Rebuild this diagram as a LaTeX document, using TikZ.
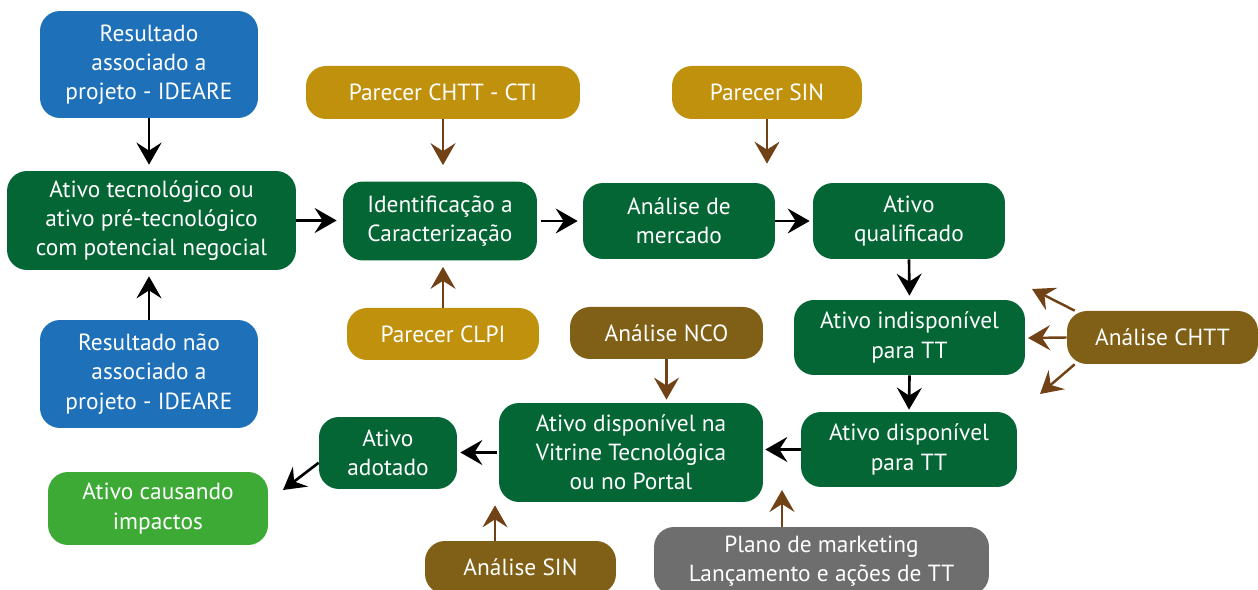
\documentclass[tikz,border=0pt]{standalone}
\usepackage{fontspec}
\setmainfont{PT Sans}
\usetikzlibrary{positioning, arrows.meta, shapes}

\definecolor{azulR}{RGB}{30,112,185}
\definecolor{verdeA}{RGB}{4,102,52}
\definecolor{verdeC}{RGB}{60,170,53}
\definecolor{ouroP}{RGB}{192,145,12}
\definecolor{marromA}{RGB}{128,96,22}
\definecolor{cinzaP}{RGB}{110,110,110}
\definecolor{setaM}{RGB}{112,66,22}

\begin{document}
\begin{tikzpicture}[
    % GLOBAL CFG
    x=0.02cm, y=-0.02cm,
    font=\fontsize{13.3}{16.6}\selectfont,
    >={Stealth[length=4.4mm, width=5mm, inset=1.6mm]},
    % Styles
    caixa/.style={% base for every box
        rectangle,
        rounded corners=4mm,
        text=white,
        align=center,
        inner sep=2pt,
        },
    resultado/.style={% blue inputs
        caixa, fill=azulR,
        },
    ativo/.style={% main flow
        caixa, fill=verdeA,
        },
    parecer/.style={% opinions
        caixa, fill=ouroP,
        },
    analise/.style={% analyses
        caixa, fill=marromA,
        },
    plano/.style={% marketing
        caixa, fill=cinzaP,
        },
    impacto/.style={% final state
        caixa, fill=verdeC,
        },
    ArrowP/.style={% black flow arrows
        ->, line width=1.5pt, black,
        },
    ArrowM/.style={% brown arrows from the boxes around
        ->, line width=1.4pt, setaM,
        },
    ]

\clip (0,0) rectangle (1258,590);

    % Inputs on the left
    \node [resultado, minimum width=4.36cm, minimum height=2.14cm] (res1) at (149,64.5)
        {Resultado\\associado a\\projeto - IDEARE};
    \node [ativo, minimum width=5.78cm, minimum height=1.98cm] (ativoTec) at (151.5,220.5)
        {Ativo tecnológico ou\\ativo pré-tecnológico\\com potencial negocial};
    \node [resultado, minimum width=4.36cm, minimum height=2.16cm] (res2) at (149,374)
        {Resultado não\\associado a\\projeto - IDEARE};

    % Top row
    \node [parecer, minimum width=5.48cm, minimum height=1.06cm] (cti) at (443,92.5) {Parecer CHTT - CTI};
    \node [ativo, minimum width=3.88cm, minimum height=1.58cm] (ident) at (440,221)
        {Identificação a\\Caracterização};
    \node [parecer, minimum width=3.84cm, minimum height=1.04cm] (clpi) at (443,334) {Parecer CLPI};
    \node [parecer, minimum width=3.8cm, minimum height=1.06cm] (psin) at (767,92.5) {Parecer SIN};
    \node [ativo, minimum width=3.84cm, minimum height=1.52cm] (mercado) at (679,221)
        {Análise de\\mercado};
    \node [ativo, minimum width=3.84cm, minimum height=1.52cm] (qualif) at (909,221)
        {Ativo\\qualificado};

    % Right column
    \node [ativo, minimum width=4.62cm, minimum height=1.5cm] (indisp) at (909.5,337.5)
        {Ativo indisponível\\para TT};
    \node [analise, minimum width=3.82cm, minimum height=1.06cm] (chtt) at (1162.5,337.5) {Análise CHTT};
    \node [ativo, minimum width=4.32cm, minimum height=1.5cm] (disp) at (909,449.5)
        {Ativo disponível\\para TT};

    % Bottom row
    \node [analise, minimum width=3.86cm, minimum height=1.04cm] (nco) at (666.5,333) {Análise NCO};
    \node [ativo, minimum width=5.28cm, minimum height=1.98cm] (vitrine) at (631,452.5)
        {Ativo disponível na\\Vitrine Tecnológica\\ou no Portal};
    \node [ativo, minimum width=2.76cm, minimum height=1.44cm] (adotado) at (388,453)
        {Ativo\\adotado};
    \node [impacto, minimum width=4.4cm, minimum height=1.46cm] (impactos) at (158,508.5)
        {Ativo causando\\impactos};
    \node [analise, minimum width=3.82cm, minimum height=1.06cm] (asin) at (520.5,567.5) {Análise SIN};
    \node [plano, minimum width=6.7cm, minimum height=1.36cm] (mkt) at (821.5,561)
        {Plano de marketing\\Lançamento e ações de TT};

    % Free ends
    \coordinate (tipImp) at (283,490);
    \coordinate (tipMkt) at (782,490);
    \coordinate (tipC1) at (1032,289);
    \coordinate (tipC2) at (1028,338);
    \coordinate (tipC3) at (1040,394);

% Start connecting all.
    % Main flow
    \draw [ArrowP, shorten >=1.2mm] (res1.south) -- (res1.south |- ativoTec.north);
    \draw [ArrowP, shorten >=1.2mm] (res2.north) -- (res2.north |- ativoTec.south);
    \draw [ArrowP, shorten >=1.2mm] (ativoTec.east) -- (ativoTec.east -| ident.west);
    \draw [ArrowP, shorten <=0.8mm, shorten >=1mm] (ident.east) -- (ident.east -| mercado.west);
    \draw [ArrowP, shorten >=0.6mm] (mercado.east) -- (qualif.west);
    \draw [ArrowP, shorten >=0.8mm] (qualif.south) -- (indisp.north);
    \draw [ArrowP, shorten >=0.4mm] (indisp.south) -- (disp.north);
    \draw [ArrowP, shorten >=0.4mm] (disp.west) -- (disp.west -| vitrine.east);
    \draw [ArrowP, shorten <=0.4mm, shorten >=0.6mm] (vitrine.west) -- (vitrine.west -| adotado.east);
    \draw [ArrowP] (adotado.188) -- (tipImp);

    % Brown arrows
    \draw [ArrowM, shorten >=3.2mm] (cti.south) -- (cti.south |- ident.north);
    \draw [ArrowM, shorten >=1.2mm] (clpi.north) -- (clpi.north |- ident.south);
    \draw [ArrowM, shorten >=3.8mm] (psin.south) -- (psin.south |- mercado.north);
    \draw [ArrowM, shorten >=0.6mm] (nco.south) -- (nco.south |- vitrine.north);
    \draw [ArrowM, shorten >=0.6mm] (asin.north -| 495,0) -- (vitrine.south -| 495,0);
    \draw [ArrowM] (mkt.north -| tipMkt) -- (tipMkt);
    \draw [ArrowM] (chtt.163) -- (tipC1);
    \draw [ArrowM] (chtt.west) -- (tipC2);
    \draw [ArrowM] (chtt.197) -- (tipC3);

\end{tikzpicture}
\end{document}
